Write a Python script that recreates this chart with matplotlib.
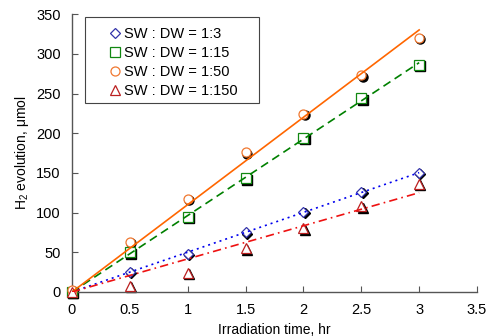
import numpy as np
import matplotlib
matplotlib.use("Agg")
import matplotlib.pyplot as plt
from matplotlib.transforms import offset_copy
from matplotlib.patches import Rectangle

plt.rcParams['font.family'] = ['Liberation Sans', 'DejaVu Sans']
plt.rcParams['mathtext.fontset'] = 'custom'
plt.rcParams['mathtext.rm'] = 'Liberation Sans'
plt.rcParams['mathtext.it'] = 'Liberation Sans:italic'

time_hr = [0, 0.5, 1, 1.5, 2, 2.5, 3]
labels = ["SW : DW = 1:3", "SW : DW = 1:15", "SW : DW = 1:50", "SW : DW = 1:150"]
sw_dw_1_3 = [0, 25, 48, 75, 101, 126, 150]
sw_dw_1_15 = [0, 50, 95, 143, 194, 244, 286]
sw_dw_1_50 = [3, 63, 117, 176, 224, 273, 320]
sw_dw_1_150 = [0, 8, 24, 55, 80, 108, 136]
xticks = [0, 0.5, 1, 1.5, 2, 2.5, 3, 3.5]
xticklabels = ['0', '0.5', '1', '1.5', '2', '2.5', '3', '3.5']
yticks = [0, 50, 100, 150, 200, 250, 300, 350]

series = [sw_dw_1_3, sw_dw_1_15, sw_dw_1_50, sw_dw_1_150]
markers = ['D', 's', 'o', '^']
msizes = [5.0, 6.5, 6.5, 7.0]
mcolors = ['#3333aa', '#118811', '#f07830', '#bb2020']
lcolors = ['#0000ee', '#008000', '#ff6600', '#ee1111']
lstyles = [(0, (1.2, 2.4)), (0, (5, 3)), '-', (0, (5, 2.5, 1, 2.5))]

fig = plt.figure(figsize=(4.91, 3.36), dpi=100)
ax = fig.add_axes([0.1466, 0.131, 0.8249, 0.827])

shadow = offset_copy(ax.transData, fig=fig, x=1.3, y=-1.3, units='dots')
x = np.array(time_hr)
xfit = np.array([0, 3])
handles = []
for ys, m, ms, mc, lc, ls, lab in zip(series, markers, msizes, mcolors, lcolors, lstyles, labels):
    y = np.array(ys, dtype=float)
    ax.plot(x, y, linestyle='none', marker=m, markersize=ms, markerfacecolor='black',
            markeredgecolor='black', markeredgewidth=1.0, transform=shadow, zorder=2, clip_on=False)
    h, = ax.plot(x, y, linestyle='none', marker=m, markersize=ms, markerfacecolor='white',
                 markeredgecolor=mc, markeredgewidth=0.9, zorder=3, label=lab, clip_on=False)
    handles.append(h)
    slope = np.sum(x * y) / np.sum(x * x)
    ax.plot(xfit, slope * xfit, color=lc, linestyle=ls, linewidth=1.2, zorder=4)

ax.set_xlim(0, 3.5)
ax.set_ylim(0, 350)
ax.set_xticks(xticks)
ax.set_xticklabels(xticklabels)
ax.set_yticks(yticks)
for s in ['top', 'right']:
    ax.spines[s].set_visible(False)
for s in ['left', 'bottom']:
    ax.spines[s].set_color('#555555')
    ax.spines[s].set_linewidth(1.0)
ax.tick_params(axis='y', direction='in', length=4, color='#555555', labelsize=10.5, pad=8)
ax.tick_params(axis='x', direction='in', length=4, color='#555555', labelsize=10.5, pad=8)

ax.set_xlabel('Irradiation time, hr', fontsize=10, labelpad=4)
ax.set_ylabel('H$_2$ evolution, μmol', fontsize=10, labelpad=4)

# legend box frame (drawn separately for Excel-like padding)
ax.add_patch(Rectangle((0.032, 0.680), 0.430, 0.309, transform=ax.transAxes,
                       facecolor='white', edgecolor='#444444', linewidth=0.8,
                       zorder=5, clip_on=False))
leg = ax.legend(handles=handles, loc='upper left', bbox_to_anchor=(0.091, 0.955),
                fontsize=10.5, frameon=False,
                handlelength=0.8, handletextpad=0.25, borderpad=0, labelspacing=0.36,
                borderaxespad=0)
leg.set_zorder(6)

fig.savefig('out.png', dpi=100)
